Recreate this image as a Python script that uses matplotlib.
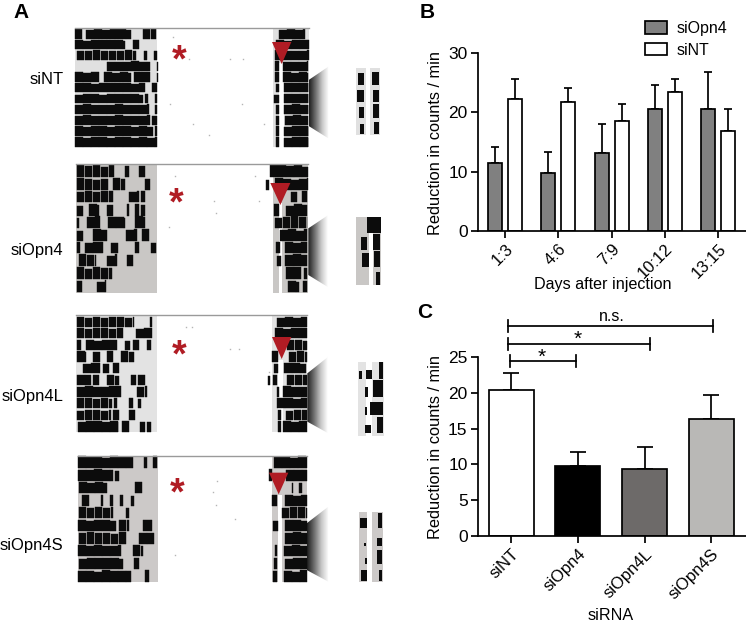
import numpy as np
import matplotlib
matplotlib.use("Agg")
import matplotlib.pyplot as plt
from matplotlib.patches import Polygon, Rectangle
from matplotlib.colors import LinearSegmentedColormap

plt.rcParams['font.family'] = ['Liberation Sans', 'DejaVu Sans']

# ---- Panel B data ----
days = ['1:3', '4:6', '7:9', '10:12', '13:15']
opn4_mean = [11.5, 9.7, 13.1, 20.5, 20.5]
opn4_err = [2.7, 3.6, 5.0, 4.1, 6.3]
nt_mean = [22.2, 21.8, 18.5, 23.4, 16.9]
nt_err = [3.5, 2.3, 2.9, 2.2, 3.6]

# ---- Panel C data ----
sirna = ['siNT', 'siOpn4', 'siOpn4L', 'siOpn4S']
sirna_mean = [20.4, 9.8, 9.3, 16.4]
sirna_err = [2.3, 2.0, 3.1, 3.3]
sirna_cols = ['white', 'black', '#6d6a69', '#b9b8b6']
br_left = [-0.02, -0.04, -0.04]
br_right = [0.97, 2.08, 3.03]
br_y = [24.4, 26.85, 29.3]
br_lab = ['*', '*', 'n.s.']

# ---- Panel A actogram data (3x picture units) ----
nt_rows_y = [116, 148, 180, 213, 245, 277, 310, 342, 375, 407, 440]
nt_rows = [
    [(226,246),(258,392),(428,468),(838,916)],
    [(226,375),(400,418),(828,926)],
    [(230,408),(432,442),(462,470),(825,926)],
    [(322,450),(470,474),(825,838),(850,925)],
    [(226,298),(312,392),(402,450),(470,474),(825,838),(850,925)],
    [(226,436),(456,472),(827,836),(852,925)],
    [(226,428),(434,445),(464,472),(822,836),(852,925)],
    [(226,448),(466,472),(827,836),(852,925)],
    [(226,450),(456,472),(827,836),(856,925)],
    [(226,458),(464,472),(827,836),(852,925)],
    [(226,470),(827,836),(852,925)],
]
o4_rows_y = [530, 570, 607, 647, 684, 722, 760, 798, 836, 876]
o4_rows = [
    [(230,342),(376,388),(418,434),(810,925)],
    [(230,325),(338,376),(436,450),(798,808),(826,925)],
    [(230,340),(388,416),(424,436),(873,890),(905,922)],
    [(230,248),(268,296),(322,340),(380,388),(406,416),(422,434),(822,838),(858,922)],
    [(232,238),(262,300),(324,374),(405,434),(824,922)],
    [(230,248),(280,320),(378,410),(425,446),(840,922)],
    [(230,240),(255,310),(334,355),(405,418),(452,468),(828,840),(855,922)],
    [(236,288),(322,350),(382,398),(830,842),(855,922)],
    [(230,335),(858,902),(912,922)],
    [(232,245),(292,318),(865,898),(908,922)],
]
o4l_rows_y = [982, 1015, 1050, 1085, 1120, 1155, 1190, 1225, 1260, 1295]
o4l_rows = [
    [(230,402),(450,456),(832,922)],
    [(230,368),(408,456),(826,922)],
    [(230,242),(258,352),(375,390),(398,418),(442,452),(860,922)],
    [(232,258),(278,300),(322,338),(362,402),(816,835),(866,920)],
    [(250,300),(310,328),(338,358),(822,835),(852,918)],
    [(232,272),(280,298),(320,356),(392,408),(415,435),(804,810),(820,832),(860,920)],
    [(232,362),(410,442),(830,838),(850,920)],
    [(230,336),(342,350),(388,400),(415,422),(832,920)],
    [(230,332),(338,358),(388,405),(834,842),(857,920)],
    [(234,355),(366,386),(420,436),(442,452),(834,842),(850,922)],
]
o4s_rows_y = [1403, 1442, 1480, 1518, 1555, 1593, 1631, 1669, 1707, 1745]
o4s_rows = [
    [(234,398),(432,442),(460,470),(822,920)],
    [(234,340),(346,358),(806,815),(858,920)],
    [(238,322),(406,425),(875,880),(898,905)],
    [(245,266),(302,308),(330,338),(360,368),(392,402),(815,832),(855,920)],
    [(236,338),(378,386),(845,920)],
    [(234,348),(356,386),(430,455),(820,833),(855,920)],
    [(236,380),(418,462),(856,920)],
    [(234,362),(398,428),(826,830),(852,920)],
    [(238,368),(402,416),(822,832),(855,920)],
    [(234,392),(436,448),(820,830),(852,920)],
]
panel_rows = [(nt_rows_y, nt_rows), (o4_rows_y, o4_rows), (o4l_rows_y, o4l_rows), (o4s_rows_y, o4s_rows)]
# left, left-gray end, right-gray start, right, top, bottom
panel_box = [(225,472,820,926,85,440), (229,472,820,925,493,878), (229,472,815,922,945,1295), (233,474,815,920,1367,1745)]
panel_bg = ['#e0e0e0', '#c9c7c5', '#e3e3e3', '#ccc9c8']
# white stripe: x0, x1, y from
panel_stripe = [(838,851,190), (836,847,610), (835,848,1080), (833,847,1485)]
panel_tri = [(816,874,126,192), (811,871,549,615), (816,874,1011,1077), (807,865,1418,1483)]
panel_star = [(538,173), (527,600), (538,1056), (531,1471)]
panel_names = ['siNT', 'siOpn4', 'siOpn4L', 'siOpn4S']
panel_name_y = [240, 752, 1190, 1637]
funnel = [(926,240,378,985,200,415), (925,685,825,985,645,862), (922,1120,1265,985,1070,1300), (920,1570,1710,985,1520,1745)]
inset_strip = [[(1069,1097,205,405),(1111,1139,205,405)],
               [(1069,1106,650,855),(1118,1142,650,855)],
               [(1075,1098,1087,1307),(1117,1152,1087,1307)],
               [(1078,1102,1537,1745),(1117,1150,1537,1745)]]
inset_blobs = [
    [(1075,1092,218,255),(1070,1092,270,305),(1078,1092,320,355),(1080,1093,372,403),
     (1115,1138,215,255),(1118,1138,270,305),(1118,1138,312,355),(1122,1138,365,403)],
    [(1100,1142,650,698),(1083,1100,712,750),(1120,1140,702,750),(1087,1108,758,802),
     (1122,1140,752,802),(1128,1140,815,855)],
    [(1077,1085,1112,1137),(1097,1115,1110,1137),(1137,1150,1087,1137),(1094,1104,1160,1192),
     (1118,1150,1140,1192),(1096,1100,1220,1245),(1110,1150,1205,1245),(1096,1112,1275,1300),(1132,1150,1250,1300)],
    [(1080,1100,1555,1585),(1133,1147,1540,1585),(1132,1146,1615,1637),(1093,1098,1630,1637),
     (1130,1146,1650,1692),(1095,1100,1675,1692),(1082,1100,1710,1743),(1137,1146,1710,1743)],
]
specks = [(520,112),(566,178),(690,178),(728,178),(510,312),(726,312),(578,372),(793,372),(626,405),
          (525,528),(765,528),(642,603),(776,603),(648,640),(508,682),
          (558,980),(575,980),(690,1048),(716,1048),(806,1117),
          (650,1442),(640,1477),(648,1516),(706,1557),(525,1666)]
tops = [1.0, 0.93, 0.98, 0.88, 1.0, 0.95, 0.9, 0.98]

W, H = 746, 625
fig = plt.figure(figsize=(W/100, H/100), dpi=100)

def px_axes(l, r, t, b):
    return fig.add_axes([l/W, 1-b/H, (r-l)/W, (b-t)/H])

# ---- Panel A ----
ov = fig.add_axes([0, 0, 1, 1])
ov.patch.set_alpha(0)
ov.axis('off')
cm = LinearSegmentedColormap.from_list('fade', ['#1f1f1f', '#707070', '#c8c8c8', '#ffffff'])
for i, (ys, rows) in enumerate(panel_rows):
    l, g1, g2, r, t, b = panel_box[i]
    ov.add_patch(Rectangle((l, t), g1-l, b-t, fc=panel_bg[i], ec='none'))
    ov.add_patch(Rectangle((g2, t), r-g2, b-t, fc=panel_bg[i], ec='none'))
    sx0, sx1, sy = panel_stripe[i]
    ov.add_patch(Rectangle((sx0, sy), sx1-sx0, b-sy, fc='white', ec='none', zorder=2))
    ov.plot([l, r], [t, t], color='#9a9a9a', lw=1.0, zorder=4)
    rh = (b - t) / len(rows)
    k = 0
    for y0, spans in zip(ys, rows):
        for s0, s1 in spans:
            for e in np.arange(s0, s1, 24.0):
                e1 = min(e + 22.5, s1)
                h = rh * 0.9 * tops[k % len(tops)]
                k += 1
                ov.add_patch(Rectangle((e, y0 - h), e1 - e, h, fc='#0c0c0c', ec='#0c0c0c', lw=0.3, zorder=3))
    for sx in inset_strip[i]:
        ov.add_patch(Rectangle((sx[0], sx[2]), sx[1]-sx[0], sx[3]-sx[2], fc=panel_bg[i], ec='none'))
    for bl in inset_blobs[i]:
        ov.add_patch(Rectangle((bl[0], bl[2]), bl[1]-bl[0], bl[3]-bl[2], fc='#0c0c0c', ec='none', zorder=3))
    x0, y0a, y0b, x1, y1a, y1b = funnel[i]
    im = ov.imshow(np.linspace(0, 1, 64)[None, :], extent=(x0, x1, y1b, y1a), cmap=cm, aspect='auto', zorder=2)
    poly = Polygon([(x0, y0a), (x1, y1a), (x1, y1b), (x0, y0b)], closed=True, transform=ov.transData, fc='none', ec='none')
    ov.add_patch(poly)
    im.set_clip_path(poly)
    tx0, tx1, ty0, ty1 = panel_tri[i]
    ov.add_patch(Polygon([(tx0, ty0), (tx1, ty0), ((tx0+tx1)/2, ty1)], closed=True, fc='#b01c24', ec='none', zorder=6))
    ov.text(panel_star[i][0], panel_star[i][1], '*', color='#b01c24', fontsize=27, fontweight='bold',
            ha='center', va='center_baseline', zorder=6)
    ov.text(190, panel_name_y[i], panel_names[i], fontsize=12, ha='right', va='center')
ov.plot([s[0] for s in specks], [s[1] for s in specks], ls='none', marker='s', ms=1.0, mew=0, color='#b5b5b5', zorder=1)
ov.set_xlim(0, W*3)
ov.set_ylim(H*3, 0)

LW = 1.25

def style(ax, yticks):
    for s in ['top', 'right']:
        ax.spines[s].set_visible(False)
    for s in ['left', 'bottom']:
        ax.spines[s].set_linewidth(LW)
    ax.set_yticks(yticks)
    ax.tick_params(axis='both', width=LW, length=5, pad=2.5)
    ax.tick_params(axis='y', labelsize=12.5)
    ax.tick_params(axis='x', labelsize=12)
    ax.patch.set_alpha(0)

def put_labels(ax, l, r, t, b, xl, xl_px, yl_px, yl_cy):
    ax.set_xlabel(xl, fontsize=11.6, va='center')
    ax.xaxis.set_label_coords((xl_px[0]-l)/(r-l), (b-xl_px[1])/(b-t))
    ax.set_ylabel('Reduction in counts / min', fontsize=11.8, va='center')
    ax.yaxis.set_label_coords((yl_px-l)/(r-l), (b-yl_cy)/(b-t))

# ---- Panel B ----
l, r, t, b = 478, 746, 53, 231
axb = px_axes(l, r, t, b)
xb = np.arange(len(days))
bw, off = 0.263, 0.188
eb = dict(ecolor='black', elinewidth=LW, capsize=3.0, capthick=LW, zorder=1, fmt='none')
b1 = axb.bar(xb-off, opn4_mean, bw, color='#808080', edgecolor='black', linewidth=LW, zorder=2, label='siOpn4')
b2 = axb.bar(xb+off, nt_mean, bw, color='white', edgecolor='black', linewidth=LW, zorder=2, label='siNT')
axb.errorbar(xb-off, opn4_mean, yerr=[np.zeros(5), opn4_err], **eb)
axb.errorbar(xb+off, nt_mean, yerr=[np.zeros(5), nt_err], **eb)
axb.set_xlim(-0.507, 4.52)
axb.set_ylim(0, 30)
style(axb, [0, 10, 20, 30])
axb.set_xticks(xb)
axb.set_xticklabels(days, rotation=45, ha='right', rotation_mode='anchor')
put_labels(axb, l, r, t, b, 'Days after injection', (603, 285), 435, 143)
fig.legend(handles=[b1, b2], loc='upper left', bbox_to_anchor=(645/W, 1-21/H), frameon=False, fontsize=11.5,
           handlelength=1.4, handleheight=0.8, handletextpad=0.6, labelspacing=0.42, borderpad=0, borderaxespad=0)

# ---- Panel C ----
l, r, t, b = 478, 746, 357, 536
axc = px_axes(l, r, t, b)
xc = np.arange(len(sirna))
axc.bar(xc, sirna_mean, 0.675, color=sirna_cols, edgecolor='black', linewidth=LW, zorder=2)
axc.errorbar(xc, sirna_mean, yerr=[np.zeros(4), sirna_err], **{**eb, 'capsize': 6.0})
axc.set_xlim(-0.495, 3.52)
axc.set_ylim(0, 25)
style(axc, [0, 5, 10, 15, 20, 25])
axc.set_xticks(xc)
axc.set_xticklabels(sirna, rotation=45, ha='right', rotation_mode='anchor')
put_labels(axc, l, r, t, b, 'siRNA', (611, 615), 435, 447)
for x0, x1, y, lab in zip(br_left, br_right, br_y, br_lab):
    axc.plot([x0, x1], [y, y], color='black', lw=LW, clip_on=False, zorder=5)
    for xv in (x0, x1):
        axc.plot([xv, xv], [y-0.85, y+0.85], color='black', lw=LW, clip_on=False, zorder=5)
axc.text((br_left[0]+br_right[0])/2-0.02, br_y[0]+0.9, br_lab[0], ha='center', va='center_baseline', fontsize=15, clip_on=False)
axc.text((br_left[1]+br_right[1])/2-0.02, br_y[1]+0.95, br_lab[1], ha='center', va='center_baseline', fontsize=15, clip_on=False)
axc.text((br_left[2]+br_right[2])/2+0.02, br_y[2]+1.4, br_lab[2], ha='center', va='center', fontsize=11.5, clip_on=False)

# ---- Panel letters ----
for lab, x, y in [('A', 13, 12), ('B', 420, 13), ('C', 417, 313)]:
    fig.text(x/W, 1-y/H, lab, fontsize=15, fontweight='bold', ha='left', va='center')

fig.savefig('out.png', dpi=100)
